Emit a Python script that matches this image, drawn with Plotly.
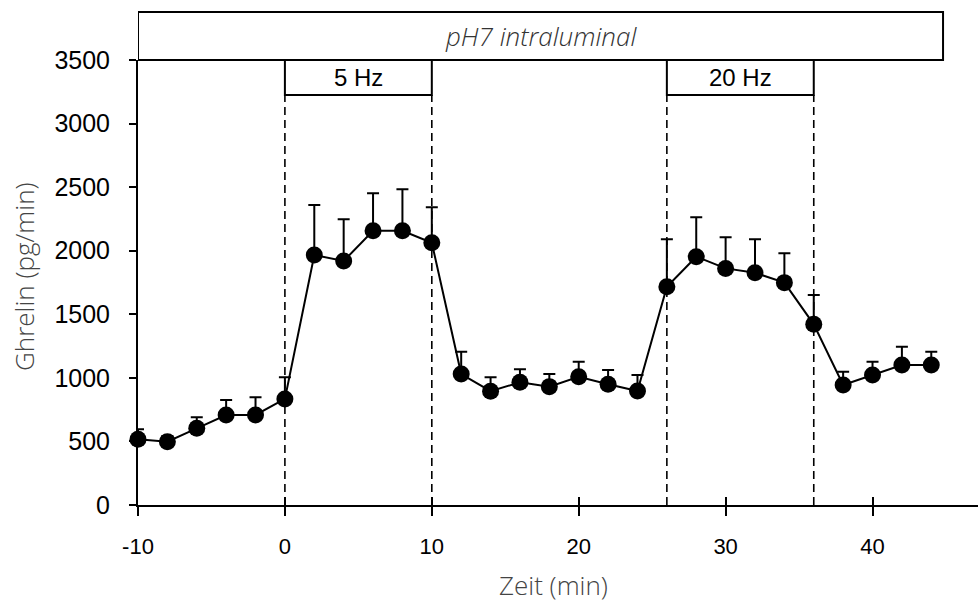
import plotly.graph_objects as go

# ---- data ----
time_min = [-10, -8, -6, -4, -2, 0, 2, 4, 6, 8, 10, 12, 14, 16, 18, 20, 22, 24,
            26, 28, 30, 32, 34, 36, 38, 40, 42, 44]
ghrelin = [517, 498, 603, 708, 708, 834, 1966, 1919, 2157, 2157, 2063, 1030, 895,
           965, 931, 1009, 949, 897, 1717, 1953, 1861, 1827, 1749, 1421, 944, 1022,
           1101, 1101]
upper = [595, 543, 690, 826, 847, 1004, 2360, 2247, 2452, 2483, 2341, 1206, 1004,
         1067, 1030, 1127, 1062, 1022, 2090, 2263, 2105, 2090, 1980, 1652, 1049,
         1127, 1245, 1206]
err_plus = [u - v for u, v in zip(upper, ghrelin)]

stim_start = [0, 26]
stim_end = [10, 36]
stim_label = ["5 Hz", "20 Hz"]
stim_box_bottom = 3225

ph_label = "pH7 intraluminal"
ph_start = -10
ph_end = 44.8

x_ticks = [-10, 0, 10, 20, 30, 40]
x_tick_text = ["-10", "0", "10", "20", "30", "40"]
y_ticks = [0, 500, 1000, 1500, 2000, 2500, 3000, 3500]
x_range = [-10, 47.18]
y_range = [0, 3500]

W, H = 978, 603
ML, MR, MT, MB = 138, 0, 60, 98
plot_h = H - MT - MB

TICK_FONT = "Liberation Sans, Arial, sans-serif"
TITLE_FONT = "Open Sans, sans-serif"

fig = go.Figure()

fig.add_trace(go.Scatter(
    x=time_min, y=ghrelin, mode="lines+markers",
    line=dict(color="black", width=2),
    marker=dict(size=17, color="black"),
    error_y=dict(type="data", symmetric=False, array=err_plus,
                 arrayminus=[0] * len(err_plus), color="black",
                 thickness=2, width=6),
    showlegend=False, cliponaxis=False, hoverinfo="x+y",
))
# dummy trace for overlay axis (inner half of the crossing ticks)
fig.add_trace(go.Scatter(x=[None], y=[None], xaxis="x2", yaxis="y",
                         showlegend=False, hoverinfo="skip"))

shapes = []
for s, e in zip(stim_start, stim_end):
    for xv in (s, e):
        shapes.append(dict(type="line", xref="x", yref="y", x0=xv, x1=xv,
                           y0=0, y1=stim_box_bottom,
                           line=dict(color="black", width=1.6, dash="8px,5px"),
                           layer="below"))
    shapes.append(dict(type="rect", xref="x", yref="y", x0=s, x1=e,
                       y0=stim_box_bottom, y1=3500,
                       line=dict(color="black", width=2), fillcolor="white",
                       layer="above"))
top_paper = 1 + (MT - 12) / plot_h
shapes.append(dict(type="rect", xref="x", yref="paper", x0=ph_start, x1=ph_end,
                   y0=1, y1=top_paper, line=dict(color="black", width=2),
                   fillcolor="white"))

annotations = []
for s, e, lab in zip(stim_start, stim_end, stim_label):
    annotations.append(dict(x=(s + e) / 2, y=(stim_box_bottom + 3500) / 2,
                            xref="x", yref="y", text=lab, showarrow=False,
                            font=dict(family=TICK_FONT, size=24, color="black"),
                            xanchor="center", yanchor="middle"))
annotations.append(dict(x=(ph_start + ph_end) / 2, y=(1 + top_paper) / 2,
                        xref="x", yref="paper", text=ph_label, showarrow=False,
                        font=dict(family=TITLE_FONT, size=26, color="#333333",
                                  style="italic", weight=300),
                        xanchor="center", yanchor="middle"))
annotations.append(dict(x=0, y=(505 - 277) / plot_h, xref="paper", yref="paper",
                        xshift=24 - ML, text="Ghrelin (pg/min)", textangle=-90,
                        showarrow=False,
                        font=dict(family=TITLE_FONT, size=26, color="#444444",
                                  weight=300),
                        xanchor="center", yanchor="middle"))
annotations.append(dict(x=(553 - ML) / (W - ML - MR), y=(505 - 585) / plot_h,
                        xref="paper", yref="paper", text="Zeit (min)",
                        showarrow=False,
                        font=dict(family=TITLE_FONT, size=26, color="#444444",
                                  weight=300),
                        xanchor="center", yanchor="middle"))

fig.update_layout(
    width=W, height=H,
    margin=dict(l=ML, r=MR, t=MT, b=MB, pad=0),
    plot_bgcolor="white", paper_bgcolor="white",
    shapes=shapes, annotations=annotations,
    xaxis=dict(range=x_range, tickvals=x_ticks, ticktext=x_tick_text,
               ticks="outside", ticklen=9,
               tickwidth=2, tickcolor="black", showline=True, linecolor="black",
               linewidth=2, showgrid=False, zeroline=False,
               tickfont=dict(family=TICK_FONT, size=22, color="black",
                             weight="normal"),
               ticklabelstandoff=12),
    xaxis2=dict(range=x_range, tickvals=x_ticks, ticks="inside", ticklen=8,
                tickwidth=2, tickcolor="black", showline=False, showgrid=False,
                zeroline=False, showticklabels=False, overlaying="x",
                anchor="y", side="bottom"),
    yaxis=dict(range=y_range, tickvals=y_ticks, ticks="outside", ticklen=7,
               tickwidth=2, tickcolor="black", showline=True, linecolor="black",
               linewidth=2, showgrid=False, zeroline=False,
               tickfont=dict(family=TICK_FONT, size=25, color="black",
                             weight="normal"),
               ticklabelstandoff=14),
    showlegend=False,
)

fig.write_html("out.html")
